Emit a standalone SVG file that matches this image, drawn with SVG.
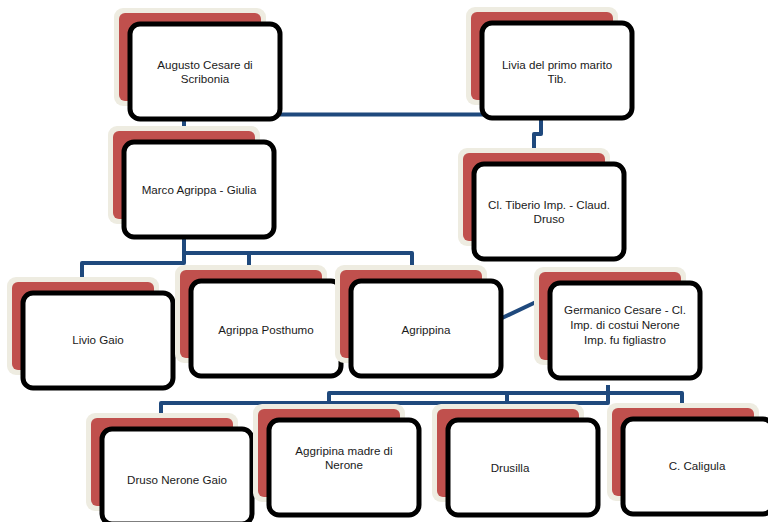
<svg xmlns="http://www.w3.org/2000/svg" width="768" height="522" viewBox="0 0 768 522">
<style>
.back{fill:#EEECE1}
.red{fill:#C0504D}
.box{fill:#FFFFFF;stroke:#000000;stroke-width:5}
.lbl{font-family:"Liberation Sans",Arial,sans-serif;font-size:11.6px;fill:#1A1A1A;text-anchor:middle}
.conn{fill:none;stroke:#1F497D;stroke-width:4;stroke-linejoin:round}
</style>
<defs>
<g id="shape">
<rect class="back" x="0" y="0" width="152" height="98" rx="9"/>
<rect class="red" x="5" y="5" width="142" height="88" rx="6"/>
<rect class="box" x="16" y="16" width="150" height="95" rx="10"/>
</g>
</defs>
<rect width="768" height="522" fill="#FFFFFF"/>
<g id="connectors">
<path class="conn" d="M280 114.5 H486"/>
<path class="conn" d="M184 114.5 V142"/>
<path class="conn" d="M541 118 V134 H534 V152"/>
<path class="conn" d="M184 236 V263 H82 V280"/>
<path class="conn" d="M184 253 H412 V268"/>
<path class="conn" d="M249 253 V268"/>
<path class="conn" d="M502 318 L536 302"/>
<path class="conn" d="M608 385 V403 H161 V418"/>
<path class="conn" d="M329 403 V393 H682 V406"/>
<path class="conn" d="M507 393 V403"/>
</g>
<g id="augusto" transform="translate(114,8)">
<use href="#shape"/>
<text class="lbl" x="91" y="61">Augusto Cesare di</text>
<text class="lbl" x="91" y="75">Scribonia</text>
</g>
<g id="livia" transform="translate(466,7)">
<use href="#shape"/>
<text class="lbl" x="91" y="62">Livia del primo marito</text>
<text class="lbl" x="91" y="76">Tib.</text>
</g>
<g id="marco" transform="translate(108,126)">
<use href="#shape"/>
<text class="lbl" x="91" y="68">Marco Agrippa - Giulia</text>
</g>
<g id="tiberio" transform="translate(458,148)">
<use href="#shape"/>
<text class="lbl" x="91" y="61">Cl. Tiberio Imp. - Claud.</text>
<text class="lbl" x="91" y="75">Druso</text>
</g>
<g id="livio" transform="translate(7,277)">
<use href="#shape"/>
<text class="lbl" x="91" y="67">Livio Gaio</text>
</g>
<g id="agrippa-posthumo" transform="translate(175,265)">
<use href="#shape"/>
<text class="lbl" x="91" y="69">Agrippa Posthumo</text>
</g>
<g id="agrippina" transform="translate(335,265)">
<use href="#shape"/>
<text class="lbl" x="91" y="69">Agrippina</text>
</g>
<g id="germanico" transform="translate(534,267)">
<use href="#shape"/>
<text class="lbl" x="91" y="47">Germanico Cesare - Cl.</text>
<text class="lbl" x="91" y="62">Imp. di costui Nerone</text>
<text class="lbl" x="91" y="77">Imp. fu figliastro</text>
</g>
<g id="druso" transform="translate(86,413)">
<use href="#shape"/>
<text class="lbl" x="91" y="71">Druso Nerone Gaio</text>
</g>
<g id="aggripina-madre" transform="translate(253,404)">
<use href="#shape"/>
<text class="lbl" x="91" y="51">Aggripina madre di</text>
<text class="lbl" x="91" y="65">Nerone</text>
</g>
<g id="drusilla" transform="translate(432,404)">
<use href="#shape"/>
<text class="lbl" x="78" y="68">Drusilla</text>
</g>
<g id="caligula" transform="translate(607,403)">
<use href="#shape"/>
<text class="lbl" x="90" y="67">C. Caligula</text>
</g>
</svg>
